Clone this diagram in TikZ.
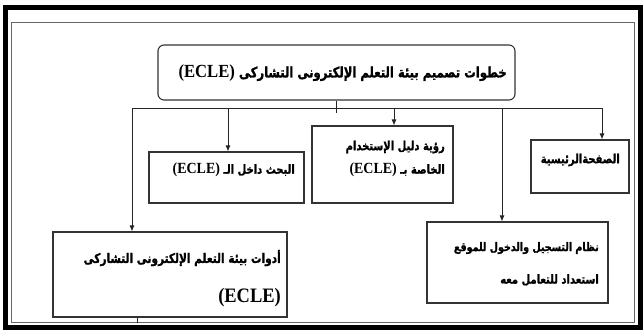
\documentclass[tikz,border=0pt]{standalone}
\usepackage{fontspec}
\usetikzlibrary{arrows.meta}
\TeXXeTstate=1
\newfontfamily\arf[Script=Arabic,FakeStretch=0.8,FakeBold=1.2]{DejaVu Sans}
\newfontfamily\enf[FakeStretch=0.9]{Liberation Serif}
\newcommand{\fs}[1]{\fontsize{#1}{#1}\selectfont}
\begin{document}
\begin{tikzpicture}[x=1pt,y=-1pt,
  box/.style={draw=black!80,line width=1.1pt,inner sep=0pt},
  lbl/.style={inner sep=0pt,anchor=east,font=\arf\bfseries\fs{12.5}},
  con/.style={draw=black!85,line width=0.9pt},
  arr/.style={con,-{Latex[length=6pt,width=5pt]}}]
\useasboundingbox (0,0) rectangle (643,332);
% frames
\draw[line width=5pt,black] (5.5,7) rectangle (640.5,327);
\draw[black!60,line width=1pt] (11,22) rectangle (634,322);
% boxes
\node[box,rounded corners=6pt,minimum width=357pt,minimum height=55pt] (top) at (336.5,72.5) {};
\node[box,minimum width=155pt,minimum height=51pt] (A) at (226.5,177.5) {};
\node[box,minimum width=141pt,minimum height=77pt] (B) at (382.5,164.5) {};
\node[box,minimum width=98pt,minimum height=53pt] (C) at (580,166.5) {};
\node[box,minimum width=234pt,minimum height=85pt] (D) at (170,274.5) {};
\node[box,minimum width=181pt,minimum height=81pt] (E) at (517.5,262.5) {};
% texts
\node[inner sep=0pt,anchor=east,font=\arf\bfseries\fs{14.5}] (tt) at (507,73) {\beginR خطوات تصميم بيئة التعلم الإلكترونى التشاركى \beginL{\enf\bfseries\fs{18.5} (ECLE)}\endL\endR};
\node[lbl] (ta) at (295,170) {\beginR البحث داخل الـ \beginL{\enf\bfseries\fs{15.5} (ECLE)}\endL\endR};
\node[lbl] (tb1) at (445,147) {\beginR رؤية دليل الإستخدام\endR};
\node[lbl] (tb2) at (445,170) {\beginR الخاصة بـ \beginL{\enf\bfseries\fs{15.5} (ECLE)}\endL\endR};
\node[lbl] (tc) at (620,160) {\beginR الصفحةالرئيسية\endR};
\node[lbl,font=\arf\bfseries\fs{13.2}] (td1) at (281,258) {\beginR أدوات بيئة التعلم الإلكترونى التشاركى\endR};
\node[lbl,font=\enf\bfseries\fs{20.5}] (td2) at (281,298) {(ECLE)};
\node[lbl,font=\arf\bfseries\fs{11.9}] (te1) at (599,248) {\beginR نظام التسجيل والدخول للموقع\endR};
\node[lbl] (te2) at (599,280) {\beginR استعداد للتعامل معه\endR};
% connectors
\coordinate (stub) at (336.5,113);
\coordinate (bD) at (132,108);
\coordinate (bA) at (228,108);
\coordinate (bB) at (394,108);
\coordinate (bE) at (502,108);
\coordinate (bC) at (602,108);
\coordinate (dstub) at (137,323);
\draw[con] (top.south) -- (stub);
\draw[con,{Latex[length=6pt,width=5pt]}-{Latex[length=6pt,width=5pt]}] (bD |- D.north) -- (bD) -- (bC) -- (bC |- C.north);
\draw[arr] (bA) -- (bA |- A.north);
\draw[arr] (bB) -- (bB |- B.north);
\draw[arr] (bE) -- (bE |- E.north);
\draw[con] (dstub |- D.south) -- (dstub);
\end{tikzpicture}
\end{document}
